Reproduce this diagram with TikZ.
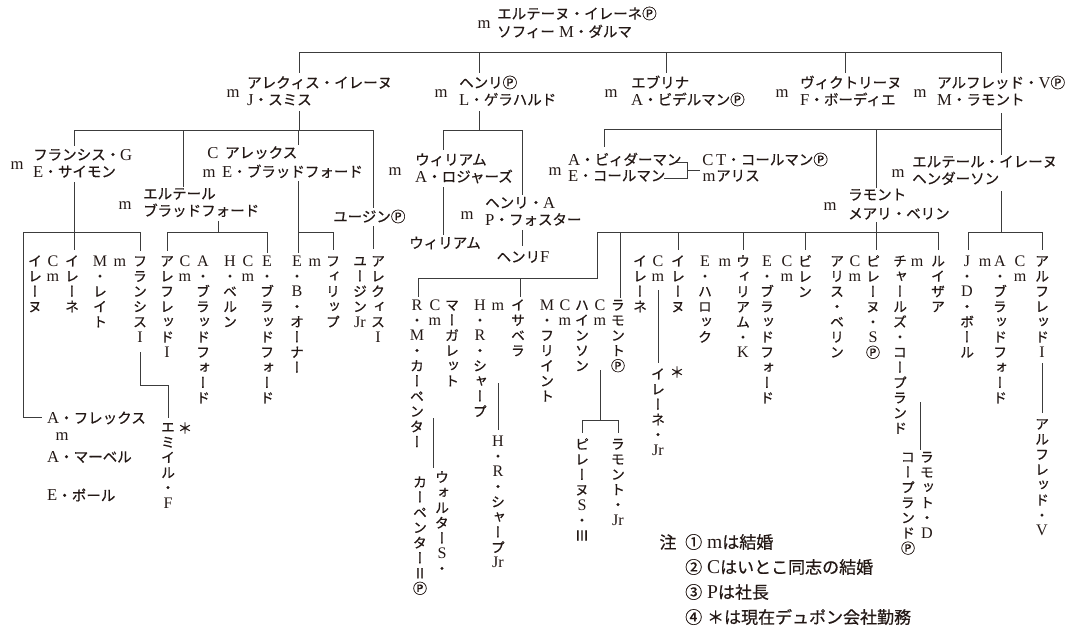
\documentclass[tikz,border=0pt]{standalone}
\usepackage{fontspec}
\setmainfont{Liberation Serif}[Scale=1.15]
\newfontfamily\jpfont{Noto Sans CJK JP}[FakeBold=0.6]
\newfontfamily\jpvfont{Noto Sans CJK JP}[RawFeature={+vert},FakeBold=0.6]
\let\curjp\jpfont
\XeTeXinterchartokenstate=1
\newXeTeXintercharclass\jpclass
\newcount\jpcc
\def\setjprange#1#2{\jpcc=#1\relax
  \loop\XeTeXcharclass\jpcc=\jpclass\relax
  \ifnum\jpcc<#2\relax\advance\jpcc by 1\relax\repeat}
\setjprange{"2160}{"217F}
\setjprange{"2460}{"24FF}
\setjprange{"3000}{"30FF}
\setjprange{"4E00}{"9FFF}
\setjprange{"FF01}{"FF5E}
\XeTeXinterchartoks 0 \jpclass = {\curjp}
\XeTeXinterchartoks 4095 \jpclass = {\curjp}
\XeTeXinterchartoks \jpclass 0 = {\rmfamily}
\XeTeXinterchartoks \jpclass 4095 = {\rmfamily}
\makeatletter
\newcommand\vstack[1]{\vbox{\let\curjp\jpvfont
  \baselineskip=15.2pt\lineskiplimit=-100pt\lineskip=0pt
  \@tfor\vs@t:=#1\do{\hbox to 15pt{\vrule height 11pt depth 4pt width 0pt\hss\vs@t\hss}}}}
\makeatother
\definecolor{ink}{HTML}{231815}
\definecolor{wire}{HTML}{3C3C3C}
\tikzset{
  lbl/.style={inner sep=0pt, anchor=base west, text=ink, font=\fontsize{14.5}{17}\selectfont},
  mk/.style={inner sep=0pt, anchor=center, text=ink, font=\fontsize{14.5}{17}\selectfont},
  nt/.style={inner sep=0pt, anchor=west, text=ink, font=\fontsize{17}{20}\selectfont},
  vc/.style={inner sep=0pt, anchor=north, text=ink, font=\fontsize{14}{15}\selectfont},
  ln/.style={draw=wire, line width=0.8pt}
}
\begin{document}
\begin{tikzpicture}[x=1pt,y=-1pt]
\useasboundingbox (0,0) rectangle (1076,629);
% ---------- level 0
\node[mk] (m0) at (484,25) {m};
\node[lbl] (t0a) at (497,19) {エルテーヌ・イレーネⓅ};
\node[lbl] (t0b) at (497,37) {ソフィー M・ダルマ};
% ---------- level 1
\node[mk] (m1a) at (233,94) {m};
\node[lbl] (t1a1) at (247,88) {アレクィス・イレーヌ};
\node[lbl] (t1a2) at (247,105) {J・スミス};
\node[mk] (m1b) at (441,94) {m};
\node[lbl] (t1b1) at (459,88) {ヘンリⓅ};
\node[lbl] (t1b2) at (459,105) {L・ゲラハルド};
\node[mk] (m1c) at (611,94) {m};
\node[lbl] (t1c1) at (631,88) {エブリナ};
\node[lbl] (t1c2) at (631,105) {A・ビデルマンⓅ};
\node[mk] (m1d) at (782,94) {m};
\node[lbl] (t1d1) at (800,88) {ヴィクトリーヌ};
\node[lbl] (t1d2) at (800,105) {F・ボーディエ};
\node[mk] (m1e) at (920,94) {m};
\node[lbl] (t1e1) at (937,88) {アルフレッド・VⓅ};
\node[lbl] (t1e2) at (937,105) {M・ラモント};
% ---------- level 2
\node[mk] (m2a) at (17,166) {m};
\node[lbl] (t2a1) at (33,160) {フランシス・G};
\node[lbl] (t2a2) at (33,177) {E・サイモン};
\node[mk] (m2b) at (125,206) {m};
\node[lbl] (t2b1) at (143,199) {エルテール};
\node[lbl] (t2b2) at (143,216) {ブラッドフォード};
\node[mk] (c2c) at (213,153) {C};
\node[lbl] (t2c1) at (225,158) {アレックス};
\node[mk] (m2c) at (209,174) {m};
\node[lbl] (t2c2) at (222,177) {E・ブラッドフォード};
\node[lbl] (t2d) at (333,222) {ユージンⓅ};
\node[mk] (m2e) at (395,172) {m};
\node[lbl] (t2e1) at (415,165) {ウィリアム};
\node[lbl] (t2e2) at (415,182) {A・ロジャーズ};
\node[mk] (m2f) at (467,216) {m};
\node[lbl] (t2f1) at (485,208) {ヘンリ・A};
\node[lbl] (t2f2) at (485,225) {P・フォスター};
\node[mk] (t2g) at (445,243) {ウィリアム};
\node[mk] (t2h) at (523,257) {ヘンリF};
\node[mk] (m2i) at (555,172) {m};
\node[lbl] (t2i1) at (568,165) {A・ビィダーマン};
\node[lbl] (t2i2) at (568,181) {E・コールマン};
\node[mk] (c2j) at (708,160) {C};
\node[lbl] (t2j1) at (716,165) {T・コールマンⓅ};
\node[mk] (m2j) at (709,178) {m};
\node[lbl] (t2j2) at (716,181) {アリス};
\node[mk] (m2k) at (830,207) {m};
\node[lbl] (t2k1) at (848,200) {ラモント};
\node[lbl] (t2k2) at (848,219) {メアリ・ベリン};
\node[mk] (m2l) at (898,174) {m};
\node[lbl] (t2l1) at (912,167) {エルテール・イレーヌ};
\node[lbl] (t2l2) at (912,184) {ヘンダーソン};
% ---------- level 3 columns
\node[vc] (c01) at (35,255) {\vstack{イレーヌ}};
\node[vc] (c02) at (53,255) {\vstack{Cm}};
\node[vc] (c03) at (72,255) {\vstack{イレーネ}};
\node[vc] (c04) at (100,255) {\vstack{M・レイト}};
\node[vc] (c05) at (120,255) {\vstack{m}};
\node[vc] (c06) at (140,255) {\vstack{フランシスI}};
\node[vc] (c07) at (167,255) {\vstack{アレフレッドI}};
\node[vc] (c08) at (185,255) {\vstack{Cm}};
\node[vc] (c09) at (203,255) {\vstack{A・ブラッドフォード}};
\node[vc] (c10) at (230,255) {\vstack{H・ベルン}};
\node[vc] (c11) at (248,255) {\vstack{Cm}};
\node[vc] (c12) at (267,255) {\vstack{E・ブラッドフォード}};
\node[vc] (c13) at (297,255) {\vstack{E・B・オーナー}};
\node[vc] (c14) at (315,255) {\vstack{m}};
\node[vc] (c15) at (333,255) {\vstack{フィリップ}};
\node[vc] (c16) at (360,255) {\vstack{ユージン{Jr}}};
\node[vc] (c17) at (378,255) {\vstack{アレクィスI}};
\node[vc] (c18) at (417,299) {\vstack{R・M・カーペンター}};
\node[vc] (c19) at (435,299) {\vstack{Cm}};
\node[vc] (c20) at (452,299) {\vstack{マーガレット}};
\node[vc] (c21) at (480,299) {\vstack{H・R・シャープ}};
\node[vc] (c22) at (498,299) {\vstack{m}};
\node[vc] (c23) at (518,299) {\vstack{イサベラ}};
\node[vc] (c24) at (547,299) {\vstack{M・フリイント}};
\node[vc] (c25) at (565,299) {\vstack{Cm}};
\node[vc] (c26) at (582,299) {\vstack{ハインソン}};
\node[vc] (c27) at (600,299) {\vstack{Cm}};
\node[vc] (c28) at (618,299) {\vstack{ラモントⓅ}};
\node[vc] (c29) at (640,255) {\vstack{イレーネ}};
\node[vc] (c30) at (658,255) {\vstack{Cm}};
\node[vc] (c31) at (678,255) {\vstack{イレーヌ}};
\node[vc] (c32) at (705,255) {\vstack{E・ハロック}};
\node[vc] (c33) at (725,255) {\vstack{m}};
\node[vc] (c34) at (743,255) {\vstack{ウィリアム・K}};
\node[vc] (c35) at (767,255) {\vstack{E・ブラッドフォード}};
\node[vc] (c36) at (787,255) {\vstack{Cm}};
\node[vc] (c37) at (805,255) {\vstack{ビレン}};
\node[vc] (c38) at (837,255) {\vstack{アリス・ベリン}};
\node[vc] (c39) at (855,255) {\vstack{Cm}};
\node[vc] (c40) at (873,255) {\vstack{ピレーヌ・SⓅ}};
\node[vc] (c41) at (900,255) {\vstack{チャールズ・コープランド}};
\node[vc] (c42) at (917,255) {\vstack{m}};
\node[vc] (c43) at (938,255) {\vstack{ルイザア}};
\node[vc] (c44) at (967,255) {\vstack{J・D・ボール}};
\node[vc] (c45) at (985,255) {\vstack{m}};
\node[vc] (c46) at (1000,255) {\vstack{A・ブラッドフォード}};
\node[vc] (c47) at (1020,255) {\vstack{Cm}};
\node[vc] (c48) at (1042,255) {\vstack{アルフレッドI}};
% sub columns
\node[vc] (s01) at (168,421) {\vstack{エミイル・F}};
\node[mk] (a01) at (185,428) {＊};
\node[vc] (s02) at (442,471) {\vstack{ウォルターS・}};
\node[vc] (s03) at (420,476) {\vstack{カーペンターⅡⓅ}};
\node[vc] (s04) at (498,435) {\vstack{H・R・シャープ{Jr}}};
\node[vc] (s05) at (582,438) {\vstack{ピレーヌS・Ⅲ}};
\node[vc] (s06) at (618,438) {\vstack{ラモント・{Jr}}};
\node[vc] (s07) at (658,368) {\vstack{イレーネ・{Jr}}};
\node[mk] (a02) at (677,372) {＊};
\node[vc] (s08) at (927,451) {\vstack{ラモット・D}};
\node[vc] (s09) at (908,451) {\vstack{コープランドⓅ}};
\node[vc] (s10) at (1042,418) {\vstack{アルフレッド・V}};
% bottom-left horizontal names
\node[lbl,anchor=west] (h01) at (47,418) {A・フレックス};
\node[mk] (h02) at (62,437) {m};
\node[lbl,anchor=west] (h03) at (47,457) {A・マーベル};
\node[lbl,anchor=west] (h04) at (47,495) {E・ポール};
% notes
\node[nt,anchor=center] (n0) at (668,542) {注};
\node[nt] (n1) at (685,542) {① mは結婚};
\node[nt] (n2) at (685,567) {② Cはいとこ同志の結婚};
\node[nt] (n3) at (685,592) {③ Pは社長};
\node[nt] (n4) at (685,617) {④ ＊は現在デュポン会社勤務};
% ---------- connectors
\coordinate (b0l) at (299,52); \coordinate (b0r) at (1001,52);
\draw[ln] (b0l) -- (b0r);
\foreach \xx/\nm in {299/a,479/b,666/c,845/d,1001/e}{
  \coordinate (d0\nm) at (\xx,52); \coordinate (e0\nm) at (\xx,73);
  \draw[ln] (d0\nm) -- (e0\nm);}
\coordinate (p1) at (299,111); \coordinate (p2) at (299,130);
\draw[ln] (p1) -- (p2);
\coordinate (b1l) at (74,130); \coordinate (b1r) at (373,130);
\draw[ln] (b1l) -- (b1r);
\coordinate (q1) at (74,146); \draw[ln] (b1l) -- (q1);
\coordinate (q2a) at (183,130); \coordinate (q2b) at (183,187); \draw[ln] (q2a) -- (q2b);
\coordinate (q3a) at (298,130); \coordinate (q3b) at (298,145); \draw[ln] (q3a) -- (q3b);
\coordinate (q4b) at (373,208); \draw[ln] (b1r) -- (q4b);
\coordinate (r1) at (479,111); \coordinate (r2) at (479,130);
\draw[ln] (r1) -- (r2);
\coordinate (b2l) at (443,130); \coordinate (b2r) at (522,130);
\draw[ln] (b2l) -- (b2r);
\coordinate (r3) at (443,150); \draw[ln] (b2l) -- (r3);
\coordinate (r4) at (522,195); \draw[ln] (b2r) -- (r4);
\coordinate (r5) at (443,187); \coordinate (r6) at (443,235); \draw[ln] (r5) -- (r6);
\coordinate (r7) at (522,230); \coordinate (r8) at (522,246); \draw[ln] (r7) -- (r8);
\coordinate (u1) at (1001,113); \coordinate (u2) at (1001,155);
\draw[ln] (u1) -- (u2);
\coordinate (b3l) at (604,129); \coordinate (b3r) at (1001,129);
\draw[ln] (b3l) -- (b3r);
\coordinate (u3) at (604,147); \draw[ln] (b3l) -- (u3);
\coordinate (u4a) at (876,129); \coordinate (u4b) at (876,188); \draw[ln] (u4a) -- (u4b);
\coordinate (k1) at (676,162); \coordinate (k2) at (687,162); \coordinate (k3) at (687,178);
\coordinate (k4) at (664,178); \coordinate (k5) at (687,170); \coordinate (k6) at (700,170);
\draw[ln] (k1) -- (k2) -- (k3) -- (k4);
\draw[ln] (k5) -- (k6);
\coordinate (f1) at (74,182); \coordinate (f2) at (74,250); \draw[ln] (f1) -- (f2);
\coordinate (f3) at (23,232); \coordinate (f4) at (140,232); \draw[ln] (f3) -- (f4);
\coordinate (f5) at (140,251); \draw[ln] (f4) -- (f5);
\coordinate (f6) at (23,417); \coordinate (f7) at (42,417); \draw[ln] (f3) -- (f6) -- (f7);
\coordinate (f8) at (140,352); \coordinate (f9) at (140,385); \coordinate (f10) at (168,385); \coordinate (f11) at (168,418);
\draw[ln] (f8) -- (f9) -- (f10) -- (f11);
\coordinate (g1) at (218,221); \coordinate (g2) at (218,232); \draw[ln] (g1) -- (g2);
\coordinate (g3) at (167,232); \coordinate (g4) at (267,232); \draw[ln] (g3) -- (g4);
\coordinate (g5) at (167,251); \draw[ln] (g3) -- (g5);
\coordinate (g6) at (267,253); \draw[ln] (g4) -- (g6);
\coordinate (h1) at (298,181); \coordinate (h2) at (298,253); \draw[ln] (h1) -- (h2);
\coordinate (h3) at (298,232); \coordinate (h4) at (333,232); \draw[ln] (h3) -- (h4);
\coordinate (h5) at (333,250); \draw[ln] (h4) -- (h5);
\coordinate (i1) at (373,226); \coordinate (i2) at (373,249); \draw[ln] (i1) -- (i2);
\coordinate (j0) at (876,222); \coordinate (j0b) at (876,250); \draw[ln] (j0) -- (j0b);
\coordinate (j1) at (597,232); \coordinate (j2) at (938,232); \draw[ln] (j1) -- (j2);
\foreach \xx/\nm in {678/a,743/b,805/c,938/e}{
  \coordinate (jd\nm) at (\xx,232); \coordinate (je\nm) at (\xx,250);
  \draw[ln] (jd\nm) -- (je\nm);}
\coordinate (j3) at (620,232); \coordinate (j4) at (620,298); \draw[ln] (j3) -- (j4);
\coordinate (j5) at (597,278); \coordinate (j6) at (418,278); \draw[ln] (j1) -- (j5) -- (j6);
\coordinate (j7) at (418,297); \draw[ln] (j6) -- (j7);
\coordinate (j8) at (520,278); \coordinate (j9) at (520,297); \draw[ln] (j8) -- (j9);
\coordinate (l1) at (1001,191); \coordinate (l2) at (1001,232); \draw[ln] (l1) -- (l2);
\coordinate (l3) at (968,232); \coordinate (l4) at (1042,232); \draw[ln] (l3) -- (l4);
\coordinate (l5) at (968,250); \draw[ln] (l3) -- (l5);
\coordinate (l6) at (1042,250); \draw[ln] (l4) -- (l6);
\coordinate (v1) at (433,418); \coordinate (v2) at (433,468); \draw[ln] (v1) -- (v2);
\coordinate (v3) at (498,383); \coordinate (v4) at (498,430); \draw[ln] (v3) -- (v4);
\coordinate (v5) at (600,370); \coordinate (v6) at (600,420); \draw[ln] (v5) -- (v6);
\coordinate (v7) at (582,420); \coordinate (v8) at (618,420); \draw[ln] (v7) -- (v8);
\coordinate (v9) at (582,433); \draw[ln] (v7) -- (v9);
\coordinate (v10) at (618,433); \draw[ln] (v8) -- (v10);
\coordinate (v11) at (658,290); \coordinate (v12) at (658,363); \draw[ln] (v11) -- (v12);
\coordinate (v13) at (920,402); \coordinate (v14) at (920,450); \draw[ln] (v13) -- (v14);
\coordinate (v15) at (1042,363); \coordinate (v16) at (1042,413); \draw[ln] (v15) -- (v16);
\end{tikzpicture}
\end{document}
